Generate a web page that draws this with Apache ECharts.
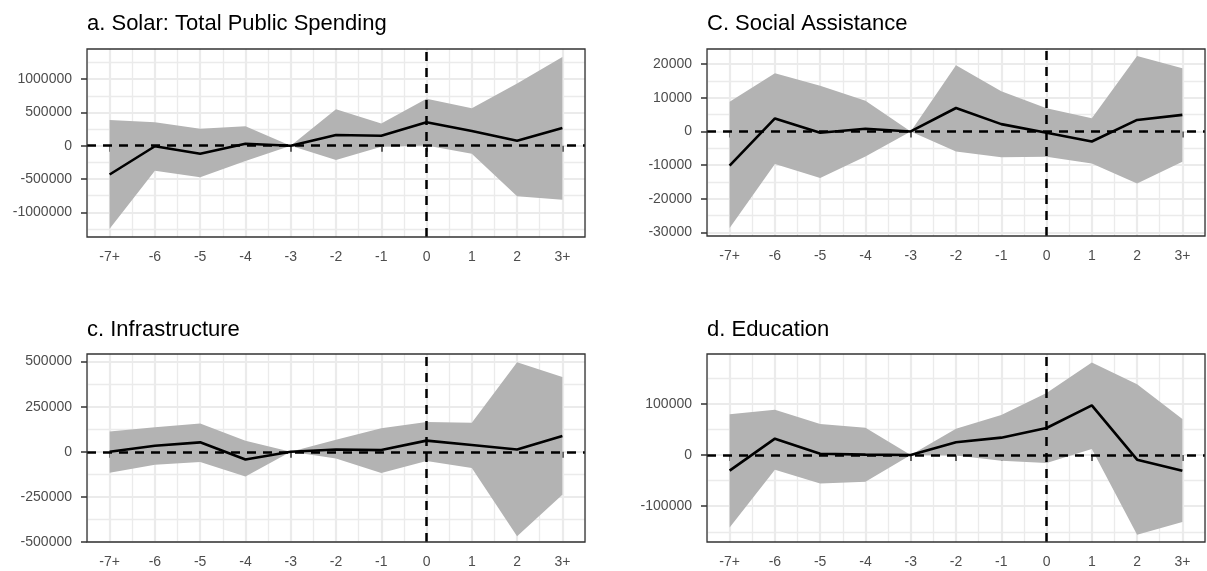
<!DOCTYPE html>
<html>
<head>
<meta charset="utf-8">
<script src="https://cdn.jsdelivr.net/npm/echarts@6/dist/echarts.min.js"></script>
<style>
  html, body { margin: 0; padding: 0; background: #fff; }
  #chart { width: 1207px; height: 571px; }
</style>
</head>
<body>
<div id="chart"></div>
<script>
// event-time categories
const periods = ['-7+', '-6', '-5', '-4', '-3', '-2', '-1', '0', '1', '2', '3+'];

// a. Solar: Total Public Spending
const solarEst  = [-432000, -8000, -120000, 30000, 0, 160000, 150000, 352000, 221000, 75000, 266000];
const solarLow  = [-1246000, -377000, -472000, -231000, 0, -216000, -15000, 5000, -120000, -759000, -809000];
const solarHigh = [387000, 352000, 256000, 291000, 0, 548000, 332000, 704000, 563000, 935000, 1332000];
const solarTicks = [-1000000, -500000, 0, 500000, 1000000];

// C. Social Assistance
const socialEst  = [-10150, 3880, -400, 800, 0, 6970, 2190, -400, -2990, 3430, 4930];
const socialLow  = [-28700, -9650, -13830, -7460, 0, -5970, -7660, -7500, -9500, -15470, -9000];
const socialHigh = [8860, 17310, 13630, 9150, 0, 19700, 11940, 6920, 3930, 22440, 18760];
const socialTicks = [-30000, -20000, -10000, 0, 10000, 20000];

// c. Infrastructure
const infraEst  = [0, 33700, 52400, -43100, 0, 13100, 9400, 61800, 37500, 13100, 88000];
const infraLow  = [-116100, -71200, -56200, -136700, 0, -37500, -118000, -50600, -89900, -468200, -237800];
const infraHigh = [112400, 136700, 157300, 61800, 0, 67400, 131100, 164800, 161000, 496300, 413900];
const infraTicks = [-500000, -250000, 0, 250000, 500000];

// d. Education
const eduEst  = [-30600, 31900, 2600, 700, 0, 24800, 33900, 52800, 97100, -9100, -30600];
const eduLow  = [-141400, -28700, -55400, -52100, 0, -1000, -11100, -15600, 11700, -155700, -130900];
const eduHigh = [79500, 88600, 60600, 53400, 0, 51500, 78200, 121200, 180500, 138100, 70400];
const eduTicks = [-100000, 0, 100000];

const panels = [
  { title: 'a. Solar: Total Public Spending', est: solarEst, low: solarLow, high: solarHigh, ticks: solarTicks,
    grid: { left: 87, top: 49, width: 498, height: 188 }, titleTop: 13,
    yMin: -1370000, yMax: 1452000, splitNumber: 5 },
  { title: 'C. Social Assistance', est: socialEst, low: socialLow, high: socialHigh, ticks: socialTicks,
    grid: { left: 707, top: 49, width: 498, height: 187 }, titleTop: 13,
    yMin: -31080, yMax: 24520, splitNumber: 5 },
  { title: 'c. Infrastructure', est: infraEst, low: infraLow, high: infraHigh, ticks: infraTicks,
    grid: { left: 87, top: 354, width: 498, height: 188 }, titleTop: 319,
    yMin: -500000, yMax: 542000, interval: 250000 },
  { title: 'd. Education', est: eduEst, low: eduLow, high: eduHigh, ticks: eduTicks,
    grid: { left: 707, top: 354, width: 498, height: 188 }, titleTop: 319,
    yMin: -169900, yMax: 197300, splitNumber: 4 }
];

const FONT = '"Liberation Sans", Arial, sans-serif';
const GRID_COLOR = '#ebebeb';
const RIBBON = '#b3b3b3';
const zeroIdx = periods.indexOf('0');
// helper positions for the major vertical grid lines (band centres)
const halfSteps = Array.from({ length: periods.length * 2 + 1 }, (_, i) => String(i));

const option = {
  animation: false,
  backgroundColor: '#fff',
  textStyle: { fontFamily: FONT },
  title: [],
  grid: [],
  xAxis: [],
  yAxis: [],
  series: []
};

panels.forEach((p, i) => {
  option.title.push({
    text: p.title,
    left: p.grid.left,
    top: p.titleTop,
    padding: 0,
    textStyle: { fontFamily: FONT, fontSize: 22, fontWeight: 'normal', color: '#000' }
  });

  // panel border drawn above the series, like ggplot's panel.border
  option.grid.push(Object.assign({
    show: true,
    z: 10,
    backgroundColor: 'transparent',
    borderColor: '#333',
    borderWidth: 1.3,
    containLabel: false
  }, p.grid));

  // main category axis: labels, ticks, minor vertical lines at band edges
  option.xAxis.push({
    type: 'category',
    gridIndex: i,
    data: periods,
    boundaryGap: true,
    axisLine: { show: false },
    axisTick: { show: true, alignWithLabel: true, length: 6, lineStyle: { color: '#333', width: 1.5 } },
    axisLabel: { color: '#4d4d4d', fontSize: 14, fontFamily: FONT, margin: 13, interval: 0 },
    splitLine: { show: true, lineStyle: { color: GRID_COLOR, width: 1.3 } },
    z: 0
  });
  // helper axis: major vertical lines at category centres
  option.xAxis.push({
    type: 'category',
    gridIndex: i,
    position: 'top',
    data: halfSteps,
    boundaryGap: false,
    axisLine: { show: false },
    axisTick: { show: false },
    axisLabel: { show: false },
    splitLine: { show: true, interval: (idx) => idx % 2 === 1, lineStyle: { color: GRID_COLOR, width: 2.2 } },
    z: 0
  });

  const yAxis = {
    type: 'value',
    gridIndex: i,
    min: p.yMin,
    max: p.yMax,
    axisLine: { show: false },
    axisTick: { show: true, length: 6, customValues: p.ticks, lineStyle: { color: '#333', width: 1.5 } },
    axisLabel: {
      color: '#4d4d4d', fontSize: 14, fontFamily: FONT, margin: 15,
      customValues: p.ticks,
      formatter: (v) => String(v)
    },
    splitLine: { show: true, lineStyle: { color: GRID_COLOR, width: 2.2 } },
    minorTick: { show: false, splitNumber: 2 },
    minorSplitLine: { show: true, lineStyle: { color: GRID_COLOR, width: 1.3 } },
    z: 0
  };
  if (p.interval) yAxis.interval = p.interval;
  else yAxis.splitNumber = p.splitNumber;
  option.yAxis.push(yAxis);

  const xIdx = i * 2;
  // confidence ribbon: invisible lower bound + stacked band width
  option.series.push({
    type: 'line',
    xAxisIndex: xIdx,
    yAxisIndex: i,
    data: p.low,
    stack: 'ci' + i,
    stackStrategy: 'all',
    symbol: 'none',
    lineStyle: { opacity: 0 },
    silent: true
  });
  option.series.push({
    type: 'line',
    xAxisIndex: xIdx,
    yAxisIndex: i,
    data: p.high.map((h, k) => h - p.low[k]),
    stack: 'ci' + i,
    stackStrategy: 'all',
    symbol: 'none',
    lineStyle: { opacity: 0 },
    areaStyle: { color: RIBBON, opacity: 1 },
    silent: true
  });
  // point estimates with dashed reference lines
  option.series.push({
    type: 'line',
    xAxisIndex: xIdx,
    yAxisIndex: i,
    data: p.est,
    symbol: 'none',
    lineStyle: { color: '#000', width: 2.6 },
    silent: true,
    z: 3,
    markLine: {
      silent: true,
      symbol: ['none', 'none'],
      label: { show: false },
      lineStyle: { color: '#000', width: 2.5, type: [9, 7] },
      data: [{ yAxis: 0 }, { xAxis: zeroIdx }]
    }
  });
});

const chart = echarts.init(document.getElementById('chart'), null, { renderer: 'canvas' });
chart.setOption(option);

window.addEventListener('resize', function () {
  chart.resize();
});
</script>
</body>
</html>
